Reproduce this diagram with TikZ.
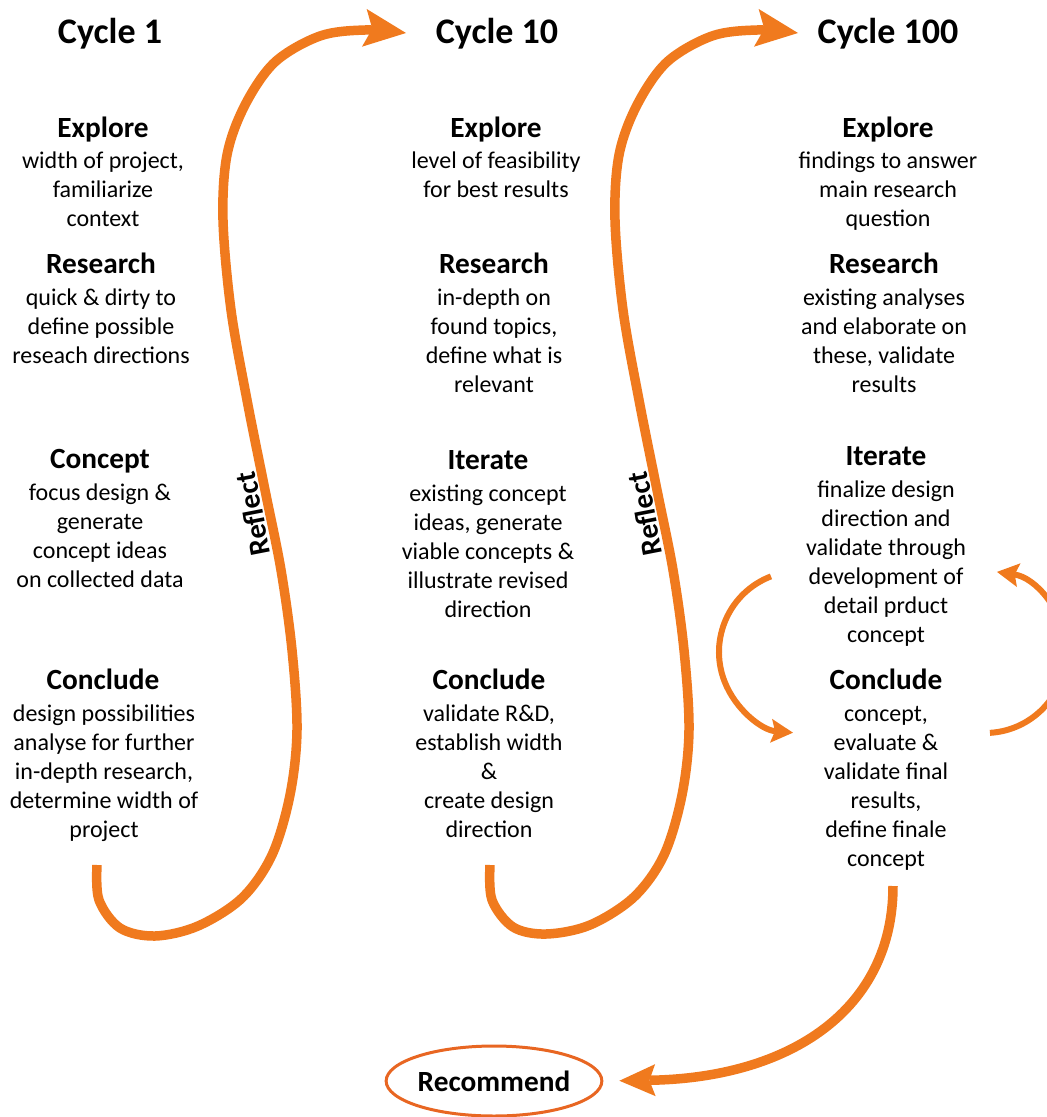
\documentclass[tikz,border=0pt]{standalone}
\usepackage{fontspec}
\setmainfont{Carlito}
\usetikzlibrary{arrows.meta,shapes.geometric}
\definecolor{arr}{RGB}{240,122,30}
\definecolor{ell}{RGB}{232,102,34}
\begin{document}
\begin{tikzpicture}[x=1pt,y=-1pt,
  title/.style={font=\fontsize{36}{43}\selectfont\bfseries, anchor=base, inner sep=0pt},
  head/.style={font=\fontsize{29.3}{35}\selectfont\bfseries, anchor=base, inner sep=0pt},
  body/.style={font=\fontsize{24}{29}\selectfont, align=center, anchor=base, inner sep=0pt},
  refltext/.style={font=\fontsize{29.3}{35}\selectfont\bfseries, inner sep=0pt, rotate=101},
  bigarrow/.style={draw=arr, line width=9.5pt, line join=round,
     -{Stealth[length=42pt,width=38pt,inset=8pt,line width=0pt]}},
  finarrow/.style={draw=arr, line width=9.5pt,
     -{Stealth[length=36pt,width=32pt,inset=6pt,line width=0pt]}},
  looparrow/.style={draw=arr, line width=6pt,
     -{Stealth[length=22pt,width=24pt,inset=4pt,line width=0pt]}},
]
\useasboundingbox (0,0) rectangle (1047,1117);

% body nodes are placed at the baseline of their LAST line

% ---------- Column 1 ----------
\node[title] (t1) at (110,43) {Cycle 1};
\node[head] (e1) at (103,137) {Explore};
\node[body] (e1b) at (103,226) {width of project,\\familiarize\\context};
\node[head] (r1) at (101,273) {Research};
\node[body] (r1b) at (101,363) {quick \& dirty to\\define possible\\reseach directions};
\node[head] (k1) at (100,468) {Concept};
\node[body] (k1b) at (100,587) {focus design \&\\generate\\concept ideas\\on collected data};
\node[head] (c1) at (103,689) {Conclude};
\node[body] (c1b) at (104,837) {design possibilities\\analyse for further\\in-depth research,\\determine width of\\project};

% ---------- Column 2 ----------
\node[title] (t2) at (497,43) {Cycle 10};
\node[head] (e2) at (496,137) {Explore};
\node[body] (e2b) at (496,197) {level of feasibility\\for best results};
\node[head] (r2) at (494,273) {Research};
\node[body] (r2b) at (494,392) {in-depth on\\found topics,\\define what is\\relevant};
\node[head] (i2) at (488,469) {Iterate};
\node[body] (i2b) at (488,617) {existing concept\\ideas, generate\\viable concepts \&\\illustrate revised\\direction};
\node[head] (c2) at (489,689) {Conclude};
\node[body] (c2b) at (489,837) {validate R\&D,\\establish width\\\&\\create design\\direction};

% ---------- Column 3 ----------
\node[title] (t3) at (888,43) {Cycle 100};
\node[head] (e3) at (888,137) {Explore};
\node[body] (e3b) at (888,226) {findings to answer\\main research\\question};
\node[head] (r3) at (884,273) {Research};
\node[body] (r3b) at (884,392) {existing analyses\\and elaborate on\\these, validate\\results};
\node[head] (i3) at (886,465) {Iterate};
\node[body] (i3b) at (886,642) {finalize design\\direction and\\validate through\\development of\\detail prduct\\concept};
\node[head] (c3) at (886,689) {Conclude};
\node[body] (c3b) at (886,866) {concept,\\evaluate \&\\validate final\\results,\\define finale\\concept};

% ---------- Recommend ----------
\node[draw=ell, line width=3pt, ellipse, minimum width=203pt, minimum height=70pt,
      inner sep=0pt, font=\fontsize{29.3}{35}\selectfont\bfseries] (rec) at (494,1081) {Recommend};

% ---------- Reflect curves ----------
\coordinate (s1) at (97,865);
\coordinate (s2) at (490,865);
\coordinate (a1) at (406,33);
\coordinate (a2) at (798,33);
\draw[bigarrow] plot[smooth, tension=0.55] coordinates {(s1) (99,900) (120,928) (155,936) (198,926) (242,898) (272,855) (290,795) (297,730) (292,650) (281,570) (265,490) (247,400) (231,310) (223,220) (227,155) (245,105) (275,62) (320,36) (365,30) (a1)};
\draw[bigarrow] plot[smooth, tension=0.55] coordinates {(s2) (492,900) (513,927) (546,934) (590,925) (634,897) (664,855) (682,795) (689,730) (684,650) (673,570) (657,490) (639,400) (623,310) (615,220) (619,155) (637,105) (667,62) (712,36) (757,30) (a2)};
\node[refltext] (rf1) at (253,514) {Reflect};
\node[refltext] (rf2) at (645,514) {Reflect};

% ---------- Loop arrows (Cycle 100) ----------
\coordinate (lc) at (800,652);
\coordinate (rc) at (985,652);
\draw[looparrow] (lc) ++(249:81) arc[start angle=249, end angle=95, radius=81];
\draw[looparrow] (rc) ++(86.5:81) arc[start angle=86.5, end angle=-81.5, radius=81];

% ---------- Final arrow ----------
\coordinate (f0) at (893,886);
\draw[finarrow, shorten >=16pt] (f0) .. controls (893,1010) and (790,1078) .. (rec.east);
\end{tikzpicture}
\end{document}
